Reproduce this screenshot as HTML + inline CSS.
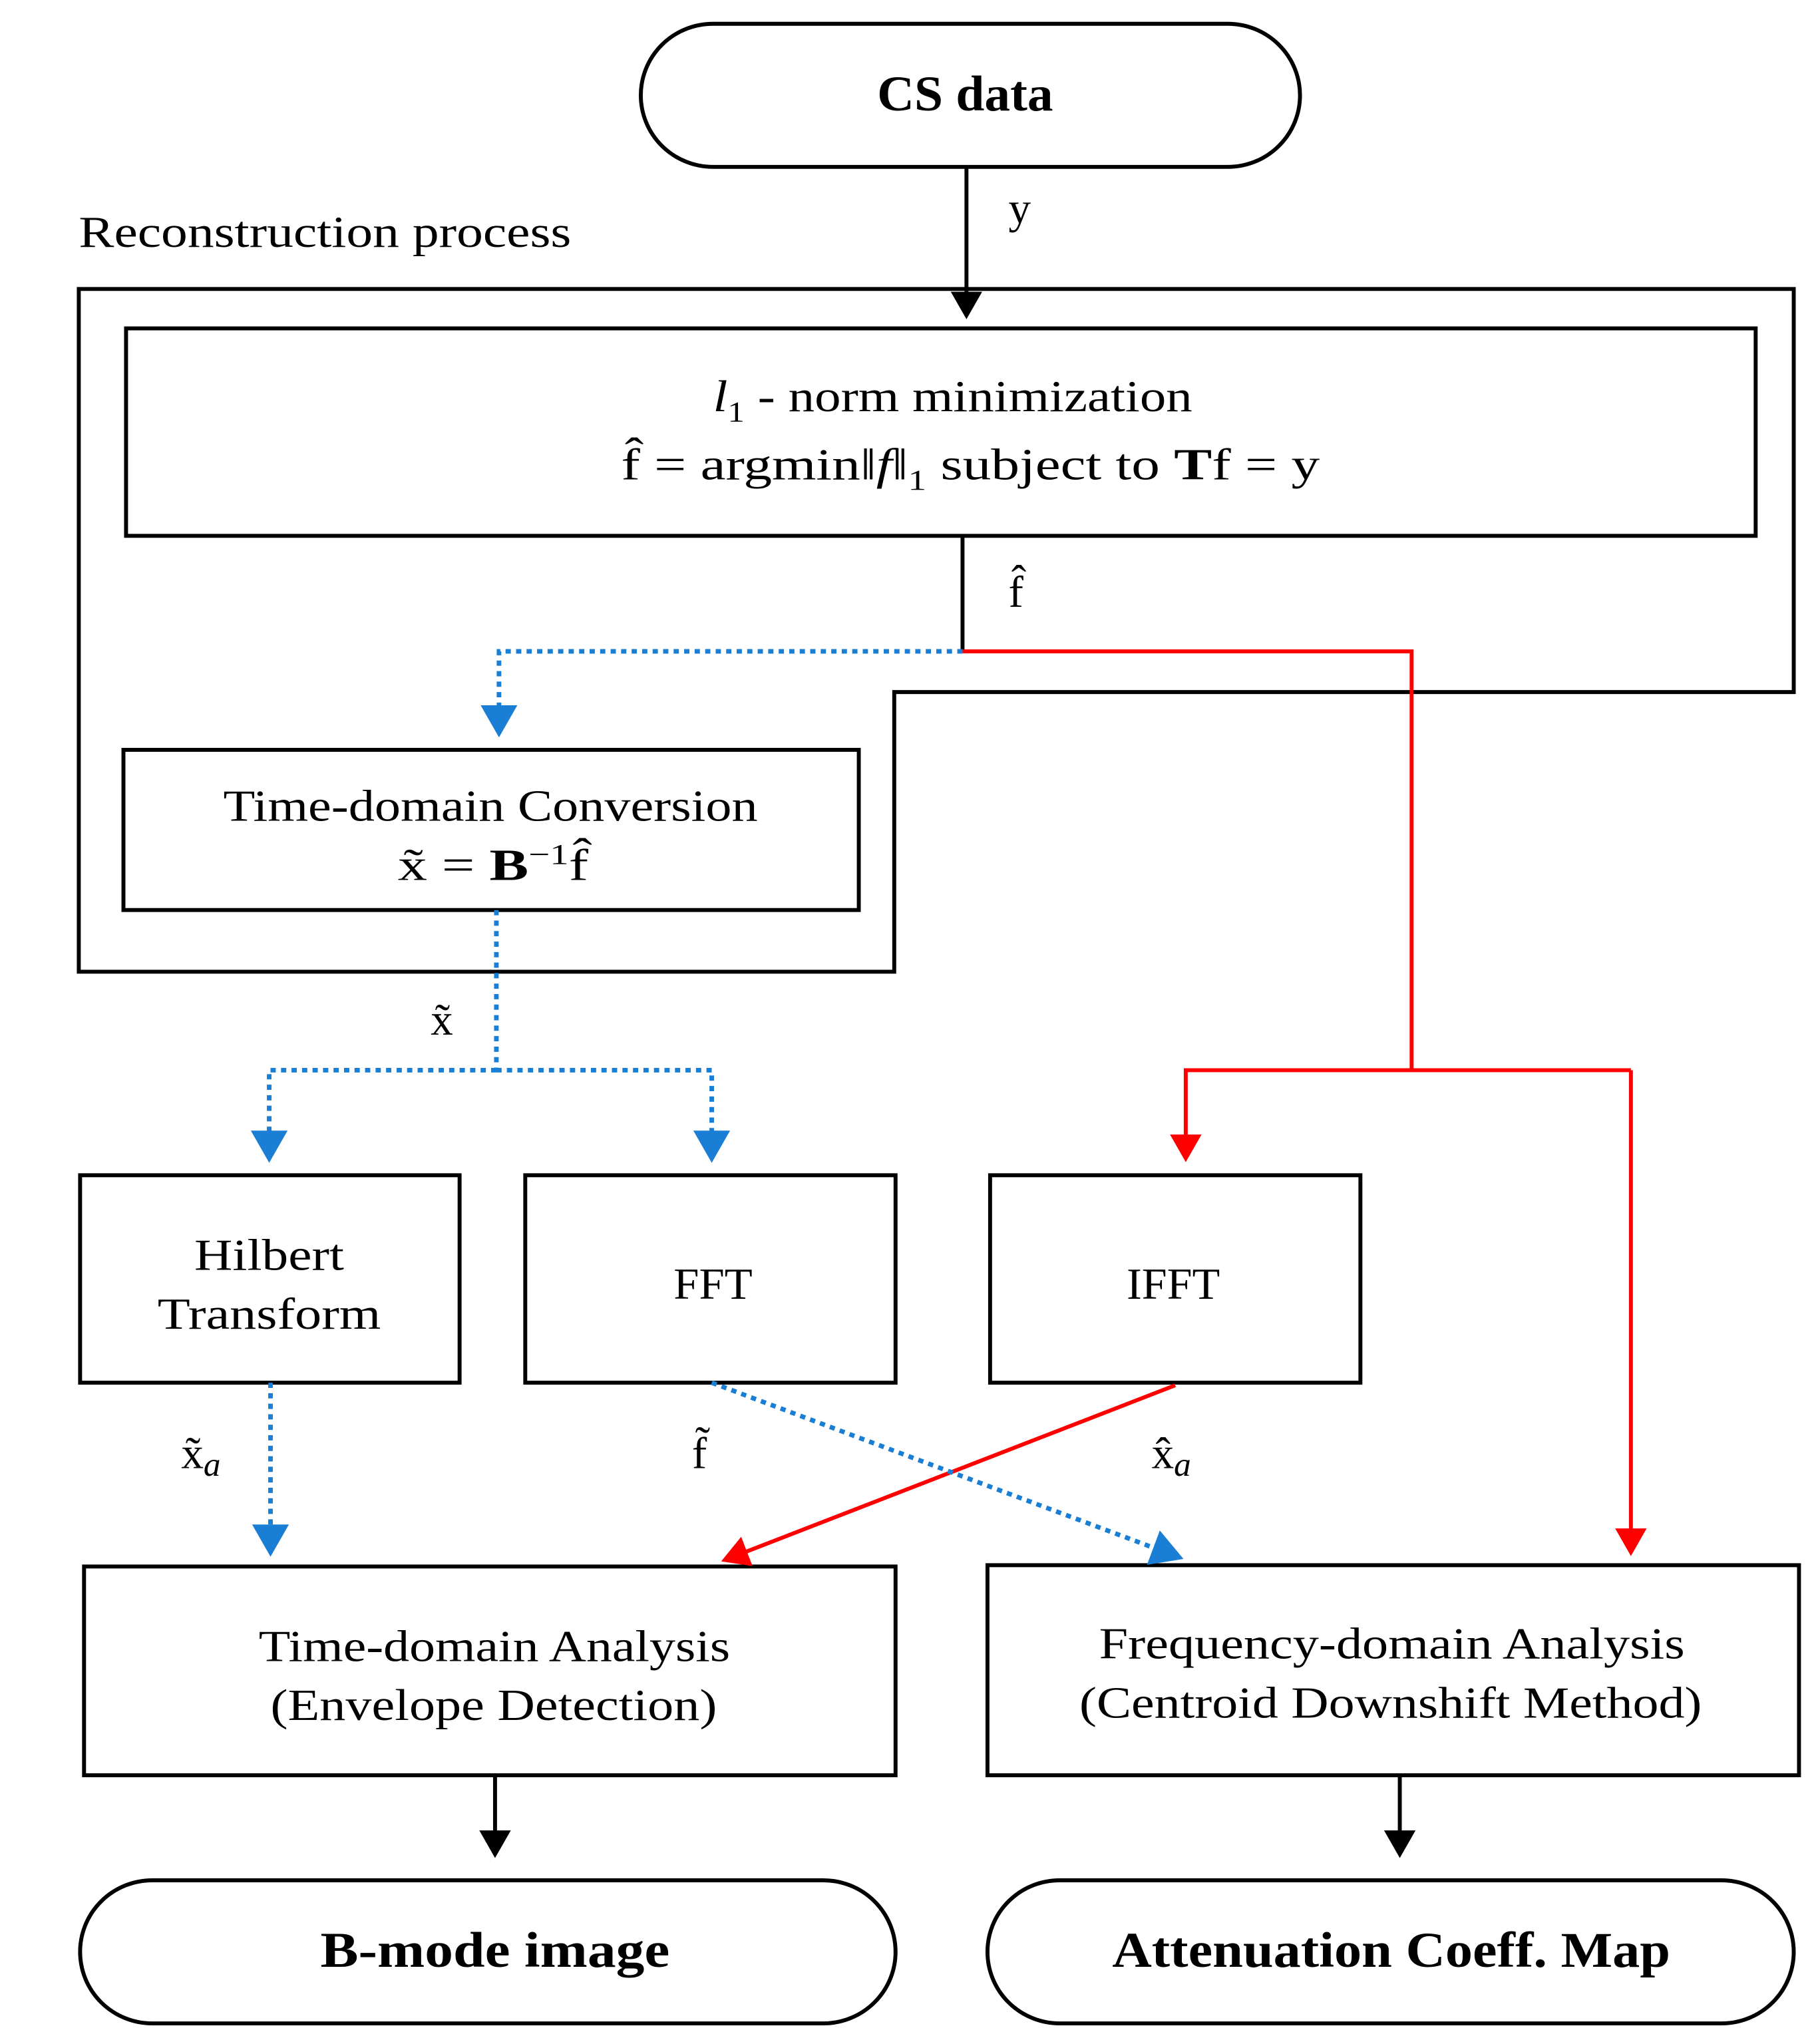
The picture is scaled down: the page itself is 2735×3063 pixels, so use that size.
<!DOCTYPE html>
<html><head><meta charset="utf-8"><style>
html,body{margin:0;padding:0;background:#fff;}
svg{display:block;}
text{font-family:"Liberation Serif","DejaVu Serif",serif;fill:#000;}
</style></head><body>
<svg width="2735" height="3063" viewBox="0 0 1386 1552" xmlns="http://www.w3.org/2000/svg">
<defs>
<marker id="ab" markerWidth="8" markerHeight="8" refX="6" refY="4" orient="auto" markerUnits="strokeWidth"><path d="M0,0 L7,4 L0,8 Z" fill="#000"/></marker>
<marker id="ar" markerWidth="8" markerHeight="8" refX="6" refY="4" orient="auto" markerUnits="strokeWidth"><path d="M0,0 L7,4 L0,8 Z" fill="#f00"/></marker>
<marker id="au" markerWidth="8" markerHeight="8" refX="6" refY="4" orient="auto" markerUnits="strokeWidth"><path d="M0,0 L7,4 L0,8 Z" fill="#1a7fd4"/></marker>
</defs>
<g fill="none" stroke="#000" stroke-width="3">
<rect x="488" y="18" width="502" height="109" rx="55"/>
<path d="M60,220 H1366 V527 H681 V740 H60 Z"/>
<rect x="96" y="250" width="1241" height="158"/>
<rect x="94" y="571" width="560" height="122"/>
<rect x="61" y="895" width="289" height="158"/>
<rect x="400" y="895" width="282" height="158"/>
<rect x="754" y="895" width="282" height="158"/>
<rect x="64" y="1193" width="618" height="159"/>
<rect x="752" y="1192" width="618" height="160"/>
<rect x="61" y="1432" width="621" height="109" rx="55"/>
<rect x="752" y="1432" width="614" height="109" rx="55"/>
<line x1="736" y1="127" x2="736" y2="240" marker-end="url(#ab)"/>
<line x1="733" y1="408" x2="733" y2="496"/>
<line x1="377" y1="1352" x2="377" y2="1412" marker-end="url(#ab)"/>
<line x1="1066" y1="1352" x2="1066" y2="1412" marker-end="url(#ab)"/>
</g>
<g fill="none" stroke="#f00" stroke-width="3">
<path d="M733,496 H1075 V815"/>
<path d="M1242,815 H903 V882" marker-end="url(#ar)"/>
<path d="M1242,815 V1182" marker-end="url(#ar)"/>
<line x1="895" y1="1055" x2="552" y2="1188" marker-end="url(#ar)"/>
</g>
<g fill="none" stroke="#1a7fd4" stroke-width="3.5" stroke-dasharray="4,4">
<path d="M733,496 H380 V558" marker-end="url(#au)"/>
<path d="M378,693 V815"/>
<path d="M378,815 H205 V882" marker-end="url(#au)"/>
<path d="M378,815 H542 V882" marker-end="url(#au)"/>
<path d="M206,1053 V1182" marker-end="url(#au)"/>
<line x1="542" y1="1053" x2="898" y2="1186" marker-end="url(#au)"/>
</g>
<g font-size="34">
<text x="668" y="84" font-weight="bold" font-size="38" textLength="134" lengthAdjust="spacingAndGlyphs">CS data</text>
<text x="768" y="170">y</text>
<text x="60" y="188" textLength="375" lengthAdjust="spacingAndGlyphs">Reconstruction process</text>
<text x="543" y="313" textLength="365" lengthAdjust="spacingAndGlyphs"><tspan font-style="italic">l</tspan><tspan font-size="22" dy="8">1</tspan><tspan dy="-8"> - norm minimization</tspan></text>
<text x="473" y="365" textLength="532" lengthAdjust="spacingAndGlyphs">f̂ = argmin‖<tspan font-style="italic">f</tspan>‖<tspan font-size="22" dy="8">1</tspan><tspan dy="-8"> subject to </tspan><tspan font-weight="bold">T</tspan>f = y</text>
<text x="768" y="462">f̂</text>
<text x="170" y="625" textLength="407" lengthAdjust="spacingAndGlyphs">Time-domain Conversion</text>
<text x="303" y="670" textLength="145" lengthAdjust="spacingAndGlyphs">x̃ = <tspan font-weight="bold">B</tspan><tspan font-size="22" dy="-12">−1</tspan><tspan dy="12">f̂</tspan></text>
<text x="328" y="788">x̃</text>
<text x="148" y="967" textLength="114" lengthAdjust="spacingAndGlyphs">Hilbert</text>
<text x="120" y="1012" textLength="170" lengthAdjust="spacingAndGlyphs">Transform</text>
<text x="513" y="989" textLength="60" lengthAdjust="spacingAndGlyphs">FFT</text>
<text x="858" y="989" textLength="71" lengthAdjust="spacingAndGlyphs">IFFT</text>
<text x="138" y="1118">x̃<tspan font-style="italic" font-size="26" dy="6">a</tspan></text>
<text x="527" y="1118">f̃</text>
<text x="877" y="1118">x̂<tspan font-style="italic" font-size="26" dy="6">a</tspan></text>
<text x="197" y="1265" textLength="359" lengthAdjust="spacingAndGlyphs">Time-domain Analysis</text>
<text x="206" y="1310" textLength="340" lengthAdjust="spacingAndGlyphs">(Envelope Detection)</text>
<text x="837" y="1263" textLength="446" lengthAdjust="spacingAndGlyphs">Frequency-domain Analysis</text>
<text x="822" y="1308" textLength="474" lengthAdjust="spacingAndGlyphs">(Centroid Downshift Method)</text>
<text x="244" y="1498" font-weight="bold" font-size="38" textLength="266" lengthAdjust="spacingAndGlyphs">B-mode image</text>
<text x="847" y="1498" font-weight="bold" font-size="38" textLength="425" lengthAdjust="spacingAndGlyphs">Attenuation Coeff. Map</text>
</g>
</svg>
</body></html>
